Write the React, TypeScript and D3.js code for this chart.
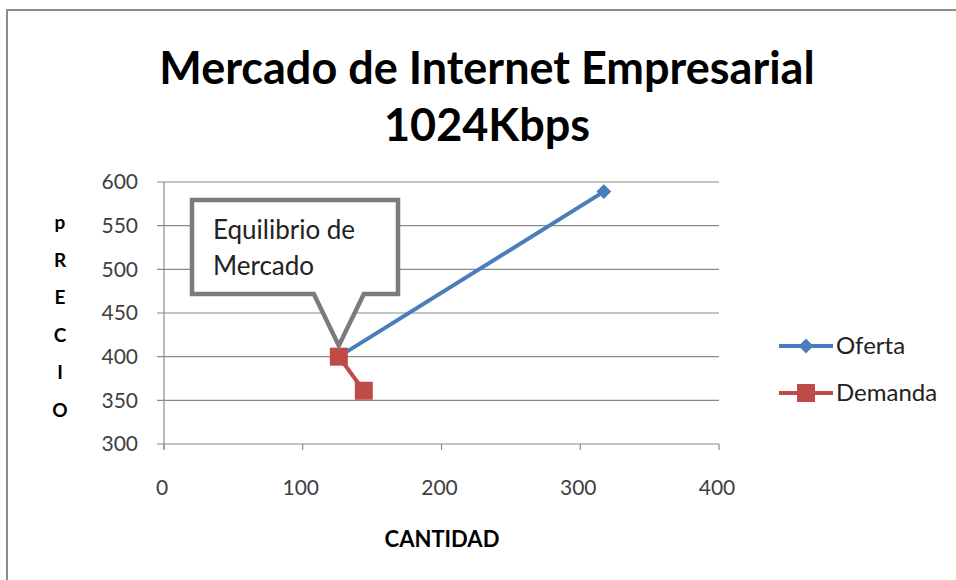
import React from "react";
import * as d3 from "d3";

const titleLines = ["Mercado de Internet Empresarial", "1024Kbps"];
const xTicks = [0, 100, 200, 300, 400];
const yTicks = [300, 350, 400, 450, 500, 550, 600];
const yTitleLetters = ["p", "R", "E", "C", "I", "O"];
const xTitle = "CANTIDAD";
const seriesNames = ["Oferta", "Demanda"];
const ofertaX = [126, 317];
const ofertaY = [400, 589];
const demandaX = [126, 144];
const demandaY = [400, 361];
const calloutLines = ["Equilibrio de", "Mercado"];

const FONT = "Lato, 'Open Sans', sans-serif";
const BLUE = "#4a7ebb";
const RED = "#be4b48";
const GRID = "#8a8a8a";

export default function App() {
  const x = d3.scaleLinear().domain([0, 400]).range([164, 719]);
  const y = d3.scaleLinear().domain([300, 600]).range([444, 182]);
  const line = d3
    .line<[number, number]>()
    .x((d) => x(d[0]))
    .y((d) => y(d[1]));
  const oferta: [number, number][] = ofertaX.map((v, i) => [v, ofertaY[i]]);
  const demanda: [number, number][] = demandaX.map((v, i) => [v, demandaY[i]]);

  const tipX = x(demandaX[0]);
  const tipY = y(demandaY[0]) - 11;
  const callout = `M192,200 H398 V294 H${tipX + 25} L${tipX},${tipY} L${tipX - 25},294 H192 Z`;

  const diamond = d3.symbol(d3.symbolSquare, 110)() as string;
  const sq = 18;

  return (
    <svg
      width={956}
      height={580}
      style={{ position: "absolute", left: 0, top: 0, background: "#fff" }}
      fontFamily={FONT}
    >
      <rect x={0} y={0} width={956} height={580} fill="#fff" />
      <rect x={7} y={10} width={1000} height={700} fill="#fff" stroke="#8c8c8c" strokeWidth={2} />

      {/* title */}
      {titleLines.map((t, i) => (
        <text key={t} x={487} y={84 + i * 57} textAnchor="middle" fontSize={45} fontWeight="bold" fill="#000">
          {t}
        </text>
      ))}

      {/* gridlines */}
      {yTicks.map((t) => (
        <g key={t}>
          <line x1={x(0) - 7} x2={x(400)} y1={y(t)} y2={y(t)} stroke={GRID} strokeWidth={1.2} />
          <text x={138} y={y(t)} dy="0.35em" textAnchor="end" fontSize={21} fill="#404040">
            {t}
          </text>
        </g>
      ))}
      {/* y axis */}
      <line x1={x(0)} x2={x(0)} y1={y(600)} y2={y(300) + 5} stroke={GRID} strokeWidth={1.2} />
      {/* x ticks */}
      {xTicks.map((t) => (
        <g key={t}>
          <line x1={x(t)} x2={x(t)} y1={y(300)} y2={y(300) + 6} stroke={GRID} strokeWidth={1.2} />
          <text x={x(t) - 2} y={488} dy="0.35em" textAnchor="middle" fontSize={21} fill="#404040">
            {t}
          </text>
        </g>
      ))}

      {/* axis titles */}
      {yTitleLetters.map((c, i) => (
        <text key={i} x={60} y={229 + i * 37.6} textAnchor="middle" fontSize={19} fontWeight="bold" fill="#000">
          {c}
        </text>
      ))}
      <text x={442} y={547} textAnchor="middle" fontSize={22} fontWeight="bold" fill="#000">
        {xTitle}
      </text>

      {/* series */}
      <path d={line(oferta) as string} fill="none" stroke={BLUE} strokeWidth={4} />
      {oferta.map((d, i) => (
        <path key={i} d={diamond} transform={`translate(${x(d[0])},${y(d[1])}) rotate(45)`} fill={BLUE} />
      ))}
      <path d={line(demanda) as string} fill="none" stroke={RED} strokeWidth={4} />
      {demanda.map((d, i) => (
        <rect key={i} x={x(d[0]) - sq / 2} y={y(d[1]) - sq / 2} width={sq} height={sq} fill={RED} />
      ))}

      {/* callout */}
      <path d={callout} fill="#fff" stroke="#7b7b7b" strokeWidth={4.5} strokeLinejoin="miter" />
      {calloutLines.map((t, i) => (
        <text key={t} x={213} y={239 + i * 36} fontSize={26} fill="#222">
          {t}
        </text>
      ))}

      {/* legend */}
      {seriesNames.map((n, i) => {
        const ly = 346 + i * 47;
        return (
          <g key={n}>
            <line x1={779} x2={833} y1={ly} y2={ly} stroke={i === 0 ? BLUE : RED} strokeWidth={4} />
            {i === 0 ? (
              <path d={diamond} transform={`translate(806,${ly}) rotate(45)`} fill={BLUE} />
            ) : (
              <rect x={806 - sq / 2} y={ly - sq / 2} width={sq} height={sq} fill={RED} />
            )}
            <text x={836} y={ly} dy="0.35em" fontSize={24} fill="#222">
              {n}
            </text>
          </g>
        );
      })}
    </svg>
  );
}
